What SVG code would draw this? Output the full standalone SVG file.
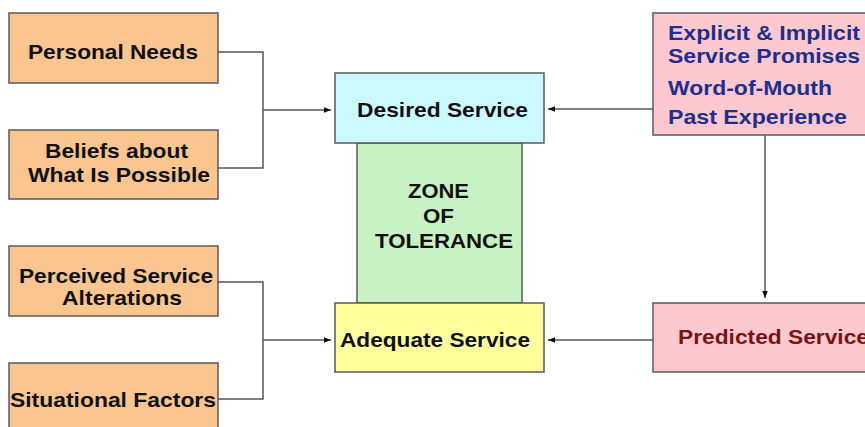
<svg xmlns="http://www.w3.org/2000/svg" width="865" height="427" viewBox="0 0 865 427">
<style>
  .box { stroke: #5a5a5a; stroke-width: 1.5; }
  .orange { fill: #FAC58F; }
  .cyan { fill: #CCF8FF; }
  .green { fill: #C8F2C4; }
  .yellow { fill: #FFFF9E; }
  .pink { fill: #FDC8D0; }
  text { font-family: "Liberation Sans", Arial, sans-serif; font-weight: bold; font-size: 21px; fill: #111; }
  .blue { fill: #1E2F8C; }
  .red { fill: #7A1414; }
  .conn { fill: none; stroke: #555; stroke-width: 1.5; }
</style>
<defs>
  <marker id="arr" viewBox="0 0 10 10" refX="10" refY="5" markerWidth="7" markerHeight="7" markerUnits="userSpaceOnUse" orient="auto">
    <path d="M0,1 L10,5 L0,9 Z" fill="#111"/>
  </marker>
</defs>
<rect width="865" height="427" fill="#fff"/>

<g id="connectors">
  <path class="conn" d="M218,52 H263 V168 H218"/>
  <path class="conn" d="M263,110 H331" marker-end="url(#arr)"/>
  <path class="conn" d="M218,282 H263 V399 H218"/>
  <path class="conn" d="M263,340 H331" marker-end="url(#arr)"/>
  <path class="conn" d="M653,109 H548" marker-end="url(#arr)"/>
  <path class="conn" d="M653,340 H548" marker-end="url(#arr)"/>
  <path class="conn" d="M765,135 V298" marker-end="url(#arr)"/>
</g>

<g id="personal-needs">
  <rect class="box orange" x="9" y="13" width="209" height="70"/>
  <text x="28" y="59" textLength="170" lengthAdjust="spacingAndGlyphs">Personal Needs</text>
</g>
<g id="beliefs">
  <rect class="box orange" x="9" y="130" width="209" height="69"/>
  <text x="45" y="158" textLength="143" lengthAdjust="spacingAndGlyphs">Beliefs about</text>
  <text x="28" y="182" textLength="182" lengthAdjust="spacingAndGlyphs">What Is Possible</text>
</g>
<g id="perceived">
  <rect class="box orange" x="9" y="246" width="209" height="70"/>
  <text x="19" y="283" textLength="194" lengthAdjust="spacingAndGlyphs">Perceived Service</text>
  <text x="62" y="305" textLength="120" lengthAdjust="spacingAndGlyphs">Alterations</text>
</g>
<g id="situational">
  <rect class="box orange" x="9" y="363" width="209" height="80"/>
  <text x="10" y="407" textLength="206" lengthAdjust="spacingAndGlyphs">Situational Factors</text>
</g>

<g id="zone">
  <rect class="box green" x="357" y="143" width="165" height="160"/>
  <text x="408" y="198" textLength="61" lengthAdjust="spacingAndGlyphs">ZONE</text>
  <text x="423" y="223" textLength="31" lengthAdjust="spacingAndGlyphs">OF</text>
  <text x="375" y="248" textLength="138" lengthAdjust="spacingAndGlyphs">TOLERANCE</text>
</g>
<g id="desired">
  <rect class="box cyan" x="335" y="73" width="209" height="70"/>
  <text x="357" y="117" textLength="171" lengthAdjust="spacingAndGlyphs">Desired Service</text>
</g>
<g id="adequate">
  <rect class="box yellow" x="335" y="303" width="209" height="69"/>
  <text x="340" y="347" textLength="190" lengthAdjust="spacingAndGlyphs">Adequate Service</text>
</g>

<g id="sources">
  <rect class="box pink" x="653" y="13" width="230" height="122"/>
  <text class="blue" x="668" y="40" textLength="192" lengthAdjust="spacingAndGlyphs">Explicit &amp; Implicit</text>
  <text class="blue" x="668" y="63" textLength="192" lengthAdjust="spacingAndGlyphs">Service Promises</text>
  <text class="blue" x="668" y="95" textLength="164" lengthAdjust="spacingAndGlyphs">Word-of-Mouth</text>
  <text class="blue" x="668" y="124" textLength="179" lengthAdjust="spacingAndGlyphs">Past Experience</text>
</g>
<g id="predicted">
  <rect class="box pink" x="653" y="303" width="230" height="69"/>
  <text class="red" x="678" y="344" textLength="191" lengthAdjust="spacingAndGlyphs">Predicted Service</text>
</g>
</svg>
